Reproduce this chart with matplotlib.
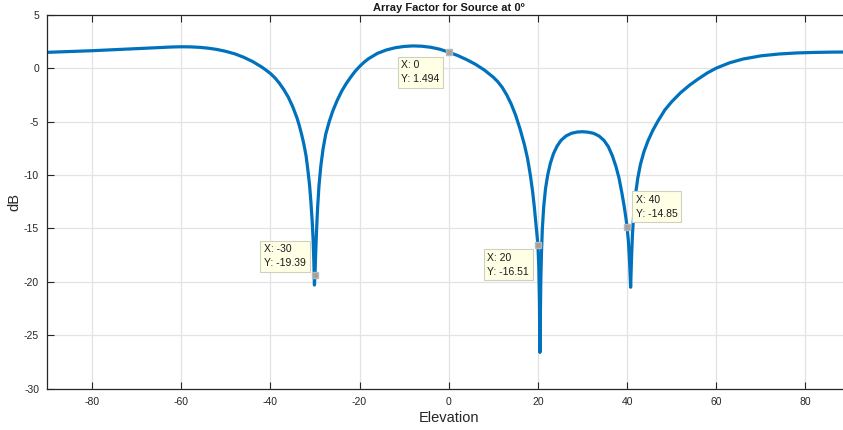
import numpy as np
import matplotlib
matplotlib.use('Agg')
import matplotlib.pyplot as plt

plt.rcParams['font.family'] = ['Liberation Sans', 'DejaVu Sans']
plt.rcParams['axes.unicode_minus'] = False

# 讀圖得到的陣列因子 (Elevation, dB)
elevation = [-90, -85, -80, -75, -70, -65, -62, -60, -58, -56, -54, -52, -50, -48, -46, -44,
             -42, -41, -40, -39, -38, -37, -36, -35, -34, -33.5, -33, -32.5, -32, -31.6,
             -31.2, -30.9, -30.6, -30.4, -30.25, -30.12, -30.0, -29.85, -29.65, -29.4,
             -29.1, -28.7, -28.2, -27.6, -26.8, -26, -25, -24, -23, -22, -21, -20, -19,
             -18, -16, -14, -12, -10, -8, -6, -4, -2, 0, 2, 4, 6, 8, 10, 11, 12, 13,
             14, 15, 16, 17, 17.7, 18.3, 18.8, 19.2, 19.6, 20.0, 20.2, 20.35, 20.45,
             20.55, 20.65, 20.8, 21.0, 21.3, 21.7, 22.2, 22.8, 23.5, 24.3, 25.2, 26.3,
             27.5, 28.8, 30.0, 31.2, 32.5, 33.7, 34.8, 35.8, 36.7, 37.5, 38.2, 38.8,
             39.3, 39.7, 40.0, 40.3, 40.55, 40.8, 41.0, 41.2, 41.5, 41.9, 42.4, 43.0,
             43.8, 44.7, 45.8, 47, 48.5, 50, 52, 54, 56, 58, 60, 63, 66, 70, 74, 78,
             82, 86, 90]
af_db = [1.48, 1.55, 1.63, 1.73, 1.84, 1.94, 1.98, 2.0, 1.99, 1.95, 1.87, 1.75, 1.57, 1.34,
         1.02, 0.62, 0.12, -0.18, -0.5, -0.9, -1.4, -2.0, -2.7, -3.6, -4.7, -5.4, -6.2,
         -7.1, -8.2, -9.5, -11.0, -12.6, -14.5, -16.2, -18.2, -20.3, -19.39, -17.4,
         -15.2, -13.0, -11.0, -9.2, -7.6, -6.2, -5.0, -4.0, -3.0, -2.15, -1.45, -0.85,
         -0.3, 0.15, 0.55, 0.88, 1.38, 1.7, 1.91, 2.03, 2.08, 2.05, 1.95, 1.77, 1.494,
         1.18, 0.8, 0.36, -0.18, -0.85, -1.27, -1.8, -2.5, -3.35, -4.4, -5.7, -7.2,
         -8.5, -10.0, -11.5, -13.0, -14.8, -16.51, -18.6, -22, -26.6, -23, -20, -17.3,
         -15.0, -13.0, -11.3, -10.0, -8.9, -8.0, -7.3, -6.75, -6.35, -6.1, -5.98,
         -5.95, -5.99, -6.1, -6.35, -6.75, -7.35, -8.2, -9.2, -10.3, -11.6, -12.8,
         -13.9, -14.85, -16.2, -18.0, -20.5, -17.8, -15.6, -13.6, -11.8, -10.3, -9.0,
         -7.8, -6.8, -5.8, -4.9, -3.9, -3.15, -2.3, -1.6, -1.0, -0.45, 0.0, 0.5,
         0.85, 1.15, 1.32, 1.42, 1.47, 1.5, 1.51]

# 資料提示
tip_x = [-30, 0, 20, 40]
tip_y = [-19.39, 1.494, -16.51, -14.85]
tip_text = ['X: -30\nY: -19.39', 'X: 0\nY: 1.494', 'X: 20\nY: -16.51', 'X: 40\nY: -14.85']
tip_pos = [((-9, 7), 'right', 'bottom'), ((-9, -8), 'right', 'top'),
           ((-9, -8), 'right', 'top'), ((9, 8), 'left', 'bottom')]

fig = plt.figure(figsize=(8.43, 4.30), dpi=100)
ax = fig.add_axes([0.0563, 0.096, 0.952, 0.8698])

ax.plot(elevation, af_db, color='#0072BD', linewidth=2.3,
        solid_joinstyle='round', solid_capstyle='round')

for x, y, t, (off, ha, va) in zip(tip_x, tip_y, tip_text, tip_pos):
    ax.plot(x, y, marker='s', markersize=5, color='#a0a0a0', markeredgecolor='#b8b8b8', zorder=5)
    ax.annotate(t, xy=(x, y), xytext=off, textcoords='offset pixels', ha=ha, va=va,
                multialignment='left', fontsize=7.5, color='#1a1a1a', linespacing=1.5,
                bbox=dict(boxstyle='square,pad=0.35', facecolor='#ffffe6',
                          edgecolor='#d0d0c0', linewidth=0.8),
                zorder=6)

ax.set_xlim(-90, 90)
ax.set_ylim(-30, 5)
ax.set_xticks(np.arange(-80, 81, 20))
ax.set_yticks(np.arange(-30, 6, 5))
ax.grid(True, color='#e3e3e3', linewidth=0.9)
ax.set_axisbelow(True)
ax.tick_params(direction='in', length=5, width=0.8, top=True, right=True,
               labelsize=7.5, colors='#262626', pad=6)
for s in ax.spines.values():
    s.set_color('#262626')
    s.set_linewidth(0.9)

ax.set_title('Array Factor for Source at 0º', fontsize=8, fontweight='bold', pad=3, color='#1a1a1a')
ax.set_xlabel('Elevation', fontsize=10.5, color='#262626', labelpad=3)
ax.set_ylabel('dB', fontsize=10.5, color='#262626', labelpad=2)

fig.savefig('out.png', dpi=100)
